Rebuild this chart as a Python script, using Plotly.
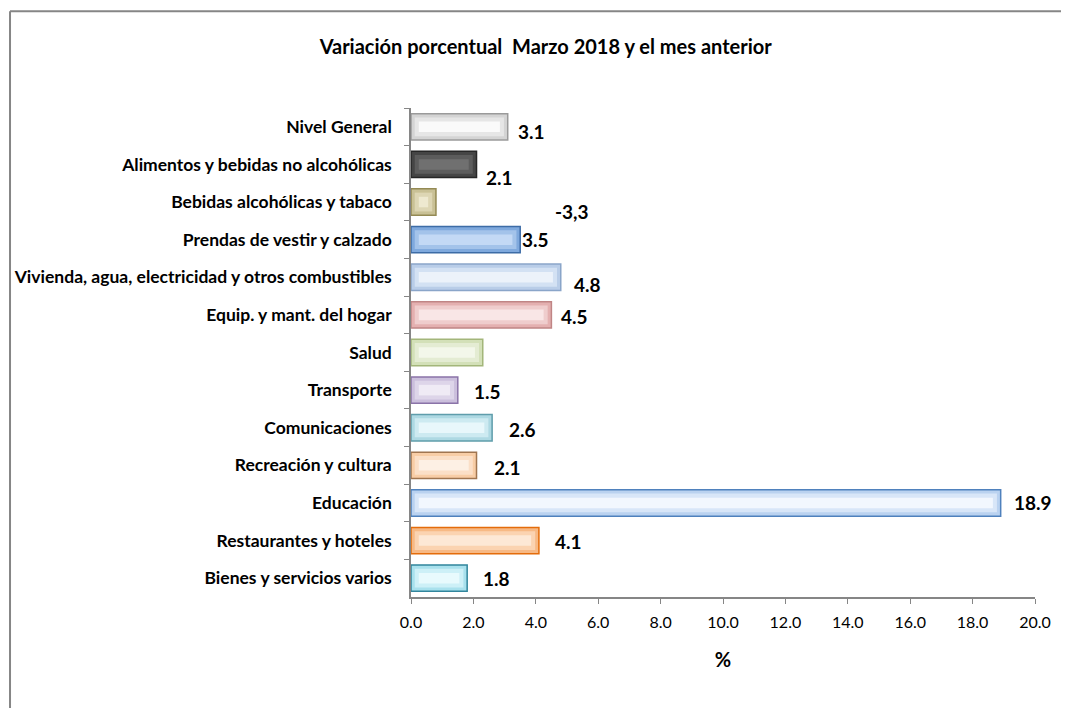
import plotly.graph_objects as go

# Datos del grafico
categorias = [
    "Nivel General",
    "Alimentos y bebidas no alcohólicas",
    "Bebidas alcohólicas y tabaco",
    "Prendas de vestir y calzado",
    "Vivienda, agua, electricidad y otros combustibles",
    "Equip. y mant. del hogar",
    "Salud",
    "Transporte",
    "Comunicaciones",
    "Recreación y cultura",
    "Educación",
    "Restaurantes y hoteles",
    "Bienes y servicios varios",
]
valores = [3.1, 2.1, 0.8, 3.5, 4.8, 4.5, 2.3, 1.5, 2.6, 2.1, 18.9, 4.1, 1.8]
etiquetas = ["3.1", "2.1", "-3,3", "3.5", "4.8", "4.5", "", "1.5", "2.6", "2.1", "18.9", "4.1", "1.8"]
ticks_x = [0, 2, 4, 6, 8, 10, 12, 14, 16, 18, 20]

# Colores por barra: relleno, tono medio, brillo central y borde
relleno = ["#d4d4d4", "#454545", "#c9c196", "#7fa9dd", "#b9cde8", "#e4b0b0", "#d3e0b8",
           "#cbbfdc", "#aed9e3", "#f8cda6", "#bad2f0", "#f7b985", "#a9e1ed"]
medio = ["#e6e6e6", "#5c5c5c", "#ddd6b4", "#a3c3ea", "#d3e1f3", "#efcdcd", "#e4ecd3",
         "#ddd5e9", "#cdeaf1", "#fbdfc7", "#d8e6f8", "#fbd3b1", "#cdf0f7"]
brillo = ["#fafafa", "#707070", "#eee9d0", "#c3d9f5", "#ecf2fa", "#f9e6e6", "#f3f7ea",
          "#efebf5", "#e8f7fb", "#fdf0e4", "#f2f7fe", "#fde8d6", "#e8fafd"]
borde = ["#9a9a9a", "#262626", "#948a54", "#3d6ca6", "#8aa5c9", "#c08585", "#a3b67a",
         "#8a73a8", "#5f9dab", "#a07550", "#4f81bd", "#e46c0a", "#31859c"]

# Desplazamientos (px) de las etiquetas respecto al extremo de la barra
desp_x = [8, 7, 117, 0, 11, 8, 0, 14, 15, 15, 11, 14, 14]
desp_y = [-5, -13, -9, 0, -7, -2, 0, -1, -2, -2, 0, -1, 0]

fuente = "Lato, 'Open Sans', sans-serif"
gris = "#868686"

fig = go.Figure()

# Barra base con borde
fig.add_trace(go.Bar(
    x=valores, y=categorias, orientation="h",
    marker=dict(color=relleno, line=dict(color=borde, width=1.5)),
    width=0.7, hoverinfo="x+y", showlegend=False
))

# Capas interiores para simular el bisel de Excel
for capa, ancho, inset in [(medio, 0.5, 0.12), (brillo, 0.28, 0.25)]:
    fig.add_trace(go.Bar(
        x=[max(v - 2 * inset, 0.05) for v in valores], base=inset, y=categorias, orientation="h",
        marker=dict(color=capa, line=dict(width=0)),
        width=ancho, hoverinfo="skip", showlegend=False
    ))

# Etiquetas de datos
for cat, v, txt, dx, dy in zip(categorias, valores, etiquetas, desp_x, desp_y):
    if not txt:
        continue
    fig.add_annotation(
        x=v, y=cat, text=f"<b>{txt}</b>", showarrow=False,
        xanchor="left", yanchor="middle", xshift=dx, yshift=dy,
        font=dict(family=fuente, size=19, color="black")
    )

fig.update_layout(
    width=1069, height=708,
    barmode="overlay",
    paper_bgcolor="white", plot_bgcolor="white",
    margin=dict(l=403, r=42, t=100, b=119),
    title=dict(
        text="<b>Variación porcentual  Marzo 2018 y el mes anterior</b>",
        x=0.503, xanchor="center", y=0.945, yanchor="middle",
        font=dict(family=fuente, size=20, color="black")
    ),
    font=dict(family=fuente, color="black"),
)

fig.update_xaxes(
    range=[0, 20], tickvals=ticks_x, tickformat=".1f",
    ticks="outside", ticklen=5, tickcolor=gris,
    showline=True, linecolor=gris, linewidth=1.5,
    showgrid=False, zeroline=False, automargin=False,
    tickfont=dict(family=fuente, size=16, color="black"),
    ticklabelstandoff=5,
    tickprefix="<b>", ticksuffix="</b>",
    title=dict(text="<b>%</b>", font=dict(family=fuente, size=20, color="black"), standoff=23),
)

fig.update_yaxes(
    autorange="reversed", type="category",
    tickson="boundaries", ticks="outside", ticklen=5, tickcolor=gris,
    showline=True, linecolor=gris, linewidth=1.5,
    showgrid=False, zeroline=False, automargin=False,
    tickfont=dict(family=fuente, size=17.5, color="black"),
    ticklabelstandoff=14,
    tickprefix="<b>", ticksuffix="</b>",
)

# Marco del area del grafico (solo borde superior e izquierdo visibles)
fig.add_shape(type="line", xref="paper", yref="paper",
              x0=-0.6426, x1=1.08, y0=1.198, y1=1.198, line=dict(color=gris, width=2))
fig.add_shape(type="line", xref="paper", yref="paper",
              x0=-0.6426, x1=-0.6426, y0=1.198, y1=-0.25, line=dict(color=gris, width=2))

fig.write_html("out.html")
